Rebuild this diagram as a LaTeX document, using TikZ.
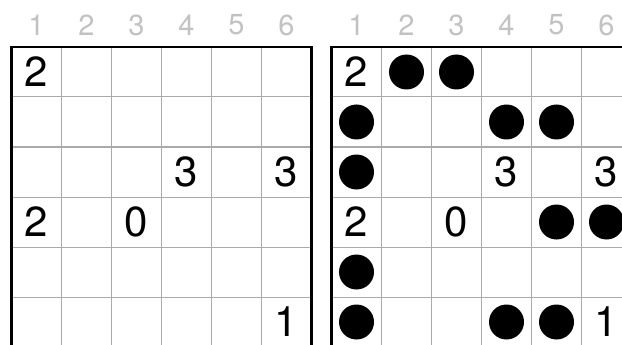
\documentclass[tikz,border=0pt]{standalone}
\usepackage{fontspec}
\setmainfont{TeX Gyre Heros}
\definecolor{gridgray}{HTML}{AAAAAA}
\definecolor{labelgray}{HTML}{C2C2C2}
\tikzset{
  clue/.style={inner sep=0pt, font=\fontsize{42}{42}\selectfont, text=black},
  collabel/.style={inner sep=0pt, font=\fontsize{29}{29}\selectfont, text=labelgray},
  dot/.style={circle, fill=black, draw=none, minimum size=35pt, inner sep=0pt},
  thin grid/.style={draw=gridgray, line width=1pt},
  border/.style={draw=black, line width=2.6pt}
}
\begin{document}
\begin{tikzpicture}[x=1pt, y=-1pt]
\useasboundingbox (0,0) rectangle (622,345);
\clip (0,0) rectangle (622,345);
\fill[white] (0,0) rectangle (622,345);
% grids
\foreach \gx/\g in {11.5/L, 331.5/R} {
  \foreach \i in {1,...,5} {
    \draw[thin grid] (\gx+50*\i, 47) -- (\gx+50*\i, 360);
    \draw[thin grid] (\gx, 47+50*\i) -- (\gx+300, 47+50*\i);
  }
  \draw[border] (\gx, 360) -- (\gx, 47) -- (\gx+300, 47) -- (\gx+300, 360);
  \foreach \c in {1,...,6} {
    \node[collabel] (lab\g\c) at (\gx+50*\c-25, 25) {\c};
  }
}
% clues
\foreach \gx/\g in {11.5/L, 331.5/R} {
  \foreach \c/\r/\v in {1/1/2, 4/3/3, 6/3/3, 1/4/2, 3/4/0, 6/6/1} {
    \node[clue] (clue\g\c\r) at (\gx+50*\c-25, 47+50*\r-25) {\v};
  }
}
% shaded cells in solution
\foreach \c/\r in {2/1, 3/1, 1/2, 4/2, 5/2, 1/3, 5/4, 6/4, 1/5, 1/6, 4/6, 5/6} {
  \node[dot] (dot\c\r) at (331.5+50*\c-25, 47+50*\r-25) {};
}
\end{tikzpicture}
\end{document}
